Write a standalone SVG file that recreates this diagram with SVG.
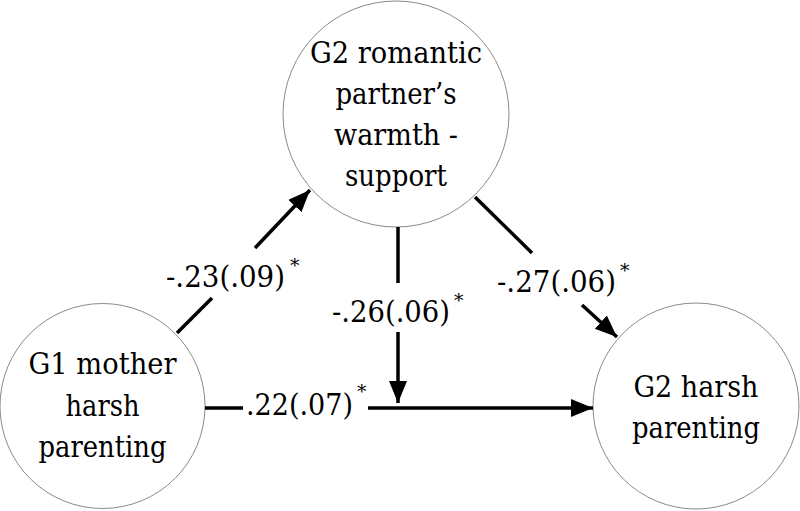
<svg xmlns="http://www.w3.org/2000/svg" width="800" height="511" viewBox="0 0 800 511">
<style>
.node{fill:#fff;stroke:#8a8a8a;stroke-width:1}
.edge{stroke:#000;stroke-width:3.5;fill:none}
</style>
<defs>
<marker id="ah" markerUnits="userSpaceOnUse" markerWidth="24" markerHeight="20" refX="22" refY="9" orient="auto">
<path d="M0,0 L22,9 L0,18 Z" fill="#000"/>
</marker>
</defs>
<rect width="800" height="511" fill="#fff"/>
<g id="n_partner" font-family="DejaVu Serif" font-size="30" text-anchor="middle">
<circle class="node" cx="396" cy="114" r="113"/>
<text x="396" y="63" textLength="172" lengthAdjust="spacingAndGlyphs">G2 romantic</text>
<text x="396" y="104" textLength="121" lengthAdjust="spacingAndGlyphs">partner’s</text>
<text x="396" y="145" textLength="124" lengthAdjust="spacingAndGlyphs">warmth -</text>
<text x="396" y="186" textLength="102" lengthAdjust="spacingAndGlyphs">support</text>
</g>
<g id="n_g1" font-family="DejaVu Serif" font-size="30" text-anchor="middle">
<circle class="node" cx="102.5" cy="406" r="102.5"/>
<text x="102.5" y="374" textLength="148" lengthAdjust="spacingAndGlyphs">G1 mother</text>
<text x="102.5" y="416" textLength="74" lengthAdjust="spacingAndGlyphs">harsh</text>
<text x="102.5" y="457" textLength="128" lengthAdjust="spacingAndGlyphs">parenting</text>
</g>
<g id="n_g2" font-family="DejaVu Serif" font-size="30" text-anchor="middle">
<circle class="node" cx="696" cy="406" r="103"/>
<text x="696" y="397" textLength="125" lengthAdjust="spacingAndGlyphs">G2 harsh</text>
<text x="696" y="438" textLength="128" lengthAdjust="spacingAndGlyphs">parenting</text>
</g>
<g id="connectors" font-family="DejaVu Serif" font-size="30">
<line class="edge" x1="177" y1="333" x2="212" y2="298"/>
<line class="edge" x1="255" y1="248" x2="310" y2="190" marker-end="url(#ah)"/>
<line class="edge" x1="475" y1="197" x2="532" y2="253"/>
<line class="edge" x1="582" y1="305" x2="617" y2="337" marker-end="url(#ah)"/>
<line class="edge" x1="398" y1="227" x2="398" y2="283"/>
<line class="edge" x1="398" y1="332" x2="398" y2="403" marker-end="url(#ah)"/>
<line class="edge" x1="205" y1="408" x2="243" y2="408"/>
<line class="edge" x1="368" y1="408" x2="593" y2="408" marker-end="url(#ah)"/>
<text x="166" y="287" textLength="119" lengthAdjust="spacingAndGlyphs">-.23(.09)</text>
<text x="290" y="272" font-size="19">*</text>
<text x="332" y="322" textLength="118" lengthAdjust="spacingAndGlyphs">-.26(.06)</text>
<text x="454" y="307" font-size="19">*</text>
<text x="497" y="292" textLength="119" lengthAdjust="spacingAndGlyphs">-.27(.06)</text>
<text x="620" y="277" font-size="19">*</text>
<text x="246" y="415" textLength="107" lengthAdjust="spacingAndGlyphs">.22(.07)</text>
<text x="357" y="398" font-size="19">*</text>
</g>
</svg>
